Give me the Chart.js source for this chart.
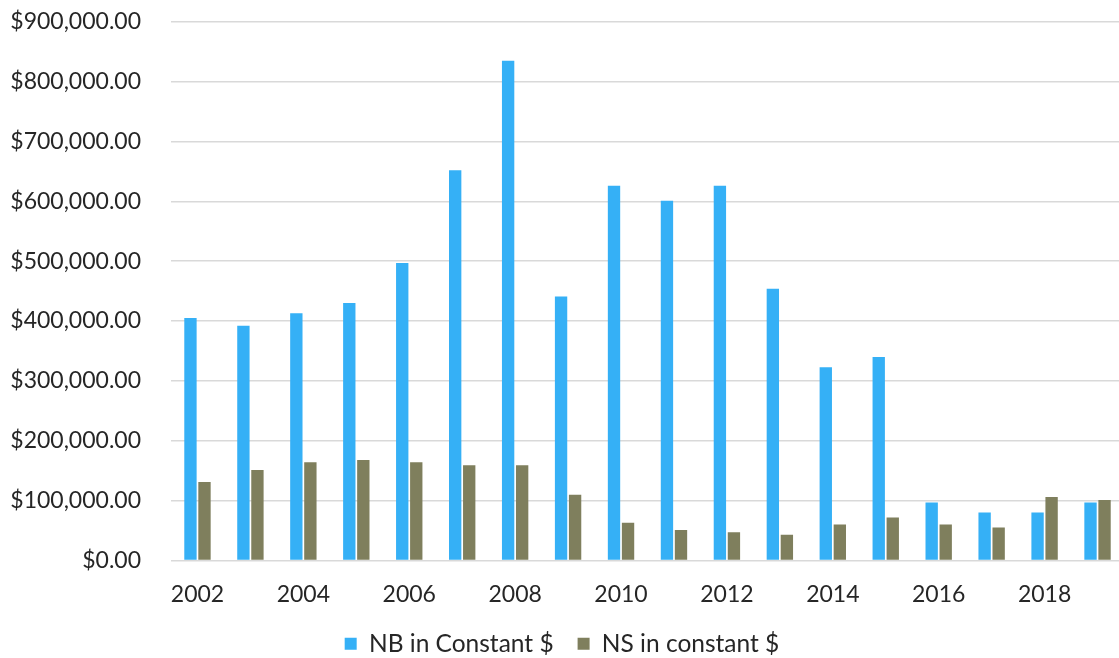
<!DOCTYPE html>
<html>
<head>
<meta charset="utf-8">
<script src="https://cdn.jsdelivr.net/npm/chart.js@4"></script>
<style>
  html, body { margin: 0; padding: 0; background: #fff; overflow: hidden; }
  #wrap { width: 1124px; height: 666px; position: relative; }
</style>
</head>
<body>
<div id="wrap"><canvas id="fundChart"></canvas></div>
<script>
const years = ["2002", "2003", "2004", "2005", "2006", "2007", "2008", "2009", "2010",
    "2011", "2012", "2013", "2014", "2015", "2016", "2017", "2018", "2019"];

const nbValues = [405000, 392000, 413000, 430000, 497000, 652000, 835000, 441000, 626000,
    601000, 626000, 454000, 323000, 340000, 97000, 80000, 80000, 97000];

const nsValues = [131000, 151000, 164000, 168000, 164000, 159000, 159000, 110000, 63000,
    51000, 47000, 43000, 60000, 72000, 60000, 55000, 106000, 101000];

const yTicks = [0, 100000, 200000, 300000, 400000, 500000, 600000, 700000, 800000, 900000];

const fontFamily = "Lato, 'Open Sans', sans-serif";
const textColor = "#262626";

const fundChart = new Chart(
    document.getElementById("fundChart"),
    {
        type: "bar",
        data: {
            labels: years,
            datasets: [{
                label: "NB in Constant $",
                data: nbValues,
                backgroundColor: "#35b0f6",
                barPercentage: 0.88,
                categoryPercentage: 0.53
            }, {
                label: "NS in constant $",
                data: nsValues,
                backgroundColor: "#7f7f5d",
                barPercentage: 0.88,
                categoryPercentage: 0.53
            }]
        },
        options: {
            responsive: true,
            maintainAspectRatio: false,
            animation: false,
            layout: {
                padding: 0
            },
            plugins: {
                tooltip: { enabled: false },
                legend: {
                    position: "bottom",
                    labels: {
                        boxWidth: 12,
                        boxHeight: 12,
                        padding: 24,
                        color: textColor,
                        font: { family: fontFamily, size: 24.5 }
                    }
                }
            },
            scales: {
                x: {
                    grid: { display: false, drawTicks: false },
                    border: { display: false },
                    afterFit: function (scale) {
                        scale.height = 47;
                    },
                    ticks: {
                        autoSkip: false,
                        maxRotation: 0,
                        padding: 20,
                        color: textColor,
                        font: { family: fontFamily, size: 23 },
                        callback: function (value, index) {
                            return index % 2 === 0 ? years[index] : "";
                        }
                    }
                },
                y: {
                    min: 0,
                    max: 900000,
                    afterBuildTicks: function (axis) {
                        axis.ticks = yTicks.map(v => ({ value: v }));
                    },
                    afterFit: function (scale) {
                        scale.width = 171;
                    },
                    grid: {
                        color: "#d9d9d9",
                        lineWidth: 1.5,
                        drawTicks: true,
                        tickLength: 22,
                        tickColor: "rgba(0,0,0,0)"
                    },
                    border: { display: false },
                    ticks: {
                        padding: 8,
                        color: textColor,
                        font: { family: fontFamily, size: 23 },
                        callback: function (value) {
                            return "$" + value.toLocaleString("en-US", {
                                minimumFractionDigits: 2,
                                maximumFractionDigits: 2
                            });
                        }
                    }
                }
            }
        }
    }
);
</script>
</body>
</html>
